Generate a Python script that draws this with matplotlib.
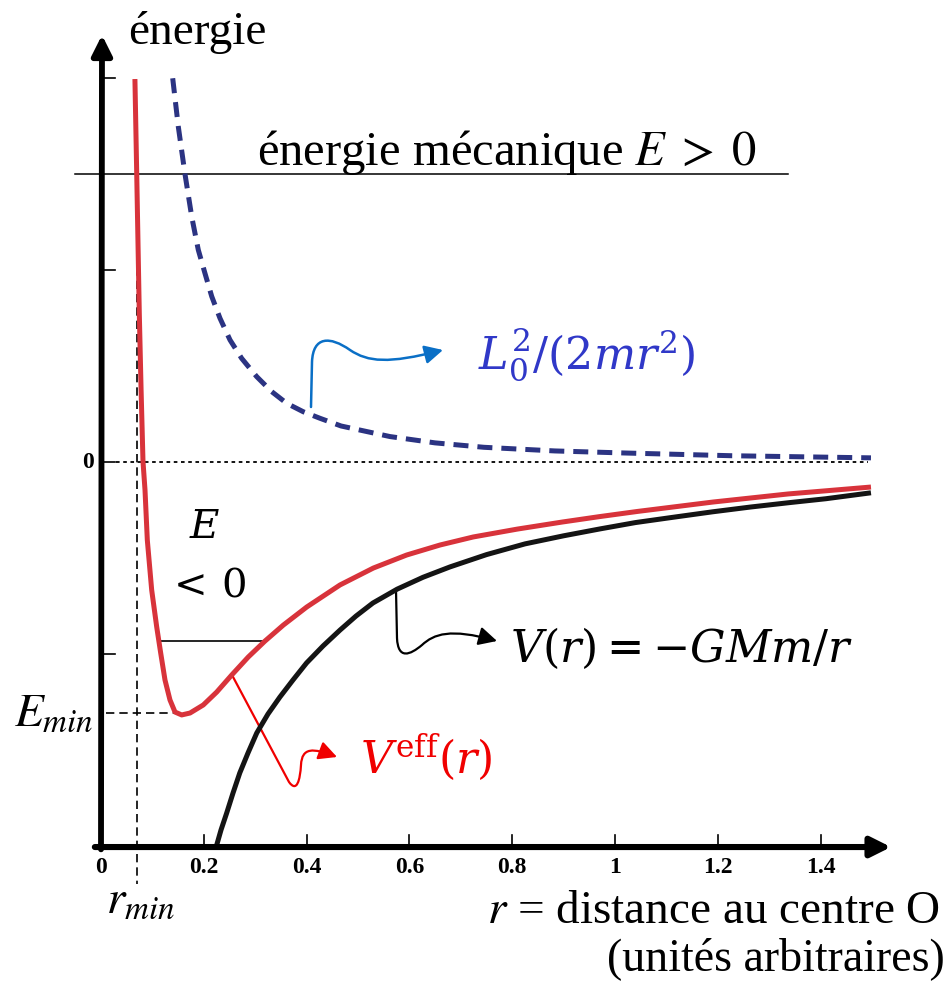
import numpy as np
import matplotlib
matplotlib.use("Agg")
import matplotlib.pyplot as plt
from matplotlib.path import Path
from matplotlib.patches import FancyArrowPatch

# valeurs (r en unites arbitraires, energie en graduations)
r_L = [0.1395, 0.1504, 0.1634, 0.1765, 0.1893, 0.2023, 0.2154, 0.2315, 0.2510, 0.2737,
       0.3029, 0.3321, 0.3613, 0.3936, 0.4261, 0.467, 0.562, 0.650, 0.745, 0.883,
       1.023, 1.228, 1.498]
E_L = [1.996, 1.744, 1.497, 1.275, 1.102, 0.980, 0.860, 0.746, 0.633, 0.537,
       0.442, 0.364, 0.303, 0.259, 0.225, 0.185, 0.130, 0.097, 0.074, 0.055,
       0.044, 0.030, 0.019]

r_eff = [0.066, 0.0695, 0.0745, 0.078, 0.0817, 0.0856, 0.0901, 0.0986, 0.1084, 0.1161,
         0.1245, 0.1342, 0.1440, 0.1570, 0.1732, 0.1990, 0.2251, 0.2543, 0.2866, 0.3191,
         0.3547, 0.4002, 0.4650, 0.5298, 0.5947, 0.6595, 0.7243, 0.81, 0.898, 0.97,
         1.044, 1.191, 1.337, 1.498]
E_eff = [1.992, 1.497, 0.773, 0.372, 0.0, -0.148, -0.409, -0.669, -0.862, -0.997,
         -1.138, -1.242, -1.305, -1.320, -1.310, -1.268, -1.201, -1.112, -1.018, -0.935,
         -0.852, -0.758, -0.643, -0.555, -0.487, -0.435, -0.393, -0.352, -0.315, -0.287,
         -0.260, -0.211, -0.169, -0.133]

r_V = [0.224, 0.2335, 0.2445, 0.2568, 0.270, 0.2860, 0.303, 0.3249, 0.348, 0.3735,
       0.400, 0.4319, 0.465, 0.4961, 0.529, 0.576, 0.6265, 0.679, 0.75, 0.825, 0.90,
       0.971, 1.04, 1.117, 1.19, 1.264, 1.34, 1.410, 1.498]
E_V = [-2.008, -1.919, -1.831, -1.727, -1.622, -1.518, -1.414, -1.315, -1.227, -1.138,
       -1.049, -0.961, -0.878, -0.805, -0.737, -0.665, -0.603, -0.549, -0.485, -0.429, -0.387,
       -0.351, -0.318, -0.289, -0.262, -0.237, -0.214, -0.194, -0.163]

x_ticks = [0.2, 0.4, 0.6, 0.8, 1.0, 1.2, 1.4]
x_labels = ["0.2", "0.4", "0.6", "0.8", "1", "1.2", "1.4"]
y_ticks = [2, 1, 0, -1]

E_pos = 1.497     # energie mecanique E > 0
E_neg = -0.935    # niveau E < 0
E_min = -1.31
r_min = 0.070
y_axe = -2.008    # position de l'axe des r

SERIF = "Liberation Serif"

fig = plt.figure(figsize=(9.49, 9.81), dpi=100)
ax = fig.add_axes([0, 0, 1, 1])
ax.set_xlim(-101 / 514, 848 / 514)
ax.set_ylim(-519.5 / 192, 461.5 / 192)
ax.axis("off")


def px(x, y):
    # pixel de l'image -> coordonnees des donnees (pour les annotations)
    return (x - 101) / 514, (461.5 - y) / 192


# axes avec fleches
ax.annotate("", xy=px(102, 35), xytext=(0, y_axe - 0.012),
            arrowprops=dict(arrowstyle="-|>,head_length=0.6,head_width=0.3",
                            lw=4.2, color="k", shrinkA=0, shrinkB=0, mutation_scale=20))
ax.annotate("", xy=(px(891, 0)[0], y_axe), xytext=(-0.012, y_axe),
            arrowprops=dict(arrowstyle="-|>,head_length=0.6,head_width=0.3",
                            lw=4.4, color="k", shrinkA=0, shrinkB=0, mutation_scale=20))

for yt in y_ticks:
    ax.plot([0, 0.028], [yt, yt], color="k", lw=1.2)
for xt, lab in zip(x_ticks, x_labels):
    ax.plot([xt, xt], [y_axe, y_axe + 0.065], color="k", lw=1.2)
    ax.text(xt, -2.112, lab, ha="center", va="center", fontsize=17,
            fontweight="bold", family=SERIF)
ax.text(0, -2.112, "0", ha="center", va="center", fontsize=17, fontweight="bold", family=SERIF)
ax.text(*px(88, 462), "0", ha="center", va="center", fontsize=17, fontweight="bold", family=SERIF)

# lignes de reference
ax.plot([0.03, r_eff[-1] - 0.005], [0, 0], color="k", lw=1.3, ls=(0, (2, 2)))
ax.plot([px(75, 0)[0], px(788, 0)[0]], [E_pos, E_pos], color="k", lw=1.1)
ax.plot([px(160, 0)[0], px(265, 0)[0]], [E_neg, E_neg], color="k", lw=1.2)
ax.plot([r_min, r_min], [E_pos, px(0, 884)[1]], color="k", lw=1.2, ls=(0, (5, 3)))
ax.plot([0.01, 0.152], [E_min, E_min], color="k", lw=1.2, ls=(0, (5, 3)))

# courbes
ax.plot(r_L, E_L, color="#2b3382", lw=3.6, ls=(0, (3, 1.8)), dash_capstyle="butt")
ax.plot(r_V, E_V, color="#141414", lw=3.6, solid_capstyle="butt", solid_joinstyle="round")
ax.plot(r_eff, E_eff, color="#d8333b", lw=3.6, solid_capstyle="butt", solid_joinstyle="round")


def fleche(pts, codes, color, lw):
    verts = [px(x, y) for x, y in pts]
    p = FancyArrowPatch(path=Path(verts, codes), color=color, lw=lw,
                        arrowstyle="-|>,head_length=0.55,head_width=0.28",
                        mutation_scale=20)
    ax.add_patch(p)


M, L, C = Path.MOVETO, Path.LINETO, Path.CURVE4
fleche([(311, 407), (312, 362), (313, 336), (330, 336), (350, 350),
        (368, 362), (388, 364), (443, 350)],
       [M, L, C, C, C, C, C, C], "#0a6fc6", 1.8)
fleche([(396, 590), (397, 638), (398, 660), (410, 655), (422, 645),
        (434, 634), (450, 628), (497, 641)],
       [M, L, C, C, C, C, C, C], "k", 1.6)
fleche([(232, 675), (289, 782), (297, 793), (300, 780), (301, 765),
        (302, 747), (313, 748), (337, 757)],
       [M, L, C, C, C, C, C, C], "#f00000", 1.6)

# textes
ax.text(*px(128, 32), "énergie", ha="left", va="center", fontsize=34, family=SERIF)
ax.text(*px(257, 152), "énergie mécanique $E\\;>\\;0$", ha="left", va="center",
        fontsize=35, family=SERIF, math_fontfamily="stix")
ax.text(*px(205, 527), "$E$", ha="center", va="center", fontsize=29,
        math_fontfamily="dejavuserif")
ax.text(*px(206, 585), "$<\\,0$", ha="center", va="center", fontsize=29,
        math_fontfamily="dejavuserif")
ax.text(*px(14, 713), "$E_{min}$", ha="left", va="center", fontsize=34,
        math_fontfamily="stix")
ax.text(*px(106, 900), "$r_{min}$", ha="left", va="center", fontsize=34,
        math_fontfamily="stix")
ax.text(*px(940, 912), "$r$ = distance au centre O", ha="right", va="center",
        fontsize=34, family=SERIF, math_fontfamily="stix")
ax.text(*px(945, 959), "(unités arbitraires)", ha="right", va="center",
        fontsize=33, family=SERIF)
ax.text(*px(510, 648), "$V(r) = -GMm/r$", ha="left", va="center", fontsize=32,
        math_fontfamily="dejavuserif")
ax.text(*px(478, 355), "$L_0^2/(2mr^2)$", ha="left", va="center", fontsize=32,
        color="#3038c8", math_fontfamily="dejavuserif")
ax.text(*px(360, 757), "$V^{\\mathrm{eff}}(r)$", ha="left", va="center", fontsize=32,
        color="#f00000", math_fontfamily="dejavuserif")

fig.savefig("out.png", dpi=100)
